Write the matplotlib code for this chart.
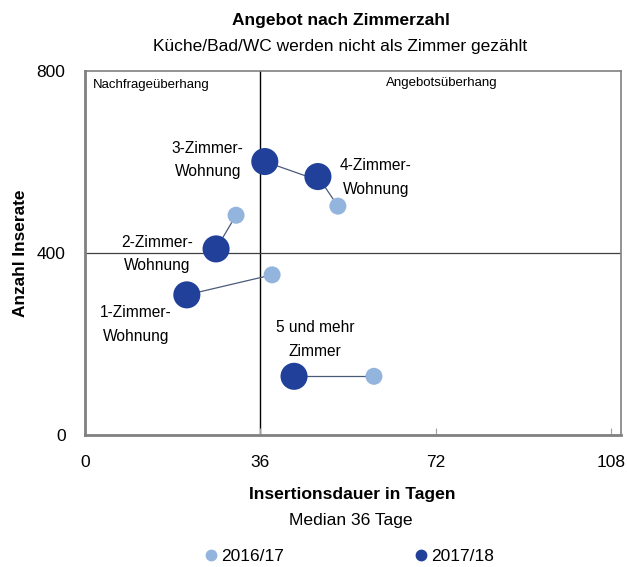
import matplotlib
matplotlib.use("Agg")
import matplotlib.pyplot as plt
from matplotlib.lines import Line2D

plt.rcParams['font.family'] = ['Liberation Sans', 'DejaVu Sans']

categories = ["1-Zimmer-\nWohnung", "2-Zimmer-\nWohnung", "3-Zimmer-\nWohnung", "4-Zimmer-\nWohnung", "5 und mehr\nZimmer"]
days_1617 = [38.4, 31.0, 47.0, 51.9, 59.3]
ads_1617 = [352, 483, 563, 503, 129]
days_1718 = [20.9, 26.9, 36.9, 47.8, 42.9]
ads_1718 = [308, 409, 601, 568, 129]
label_pos = [(10.5, 243), (14.8, 398), (25.2, 605), (59.7, 566), (47.2, 210)]
median_days = 36
median_ads = 400
xticks = [0, 36, 72, 108]
yticks = [0, 400, 800]

dark = "#21409a"
light = "#93b4dc"

fig = plt.figure(figsize=(6.27, 5.67), dpi=100)
ax = fig.add_axes([85/627, 1-435/567, (621-85)/627, (435-71)/567])
ax.set_xlim(0, 110)
ax.set_ylim(0, 800)

ax.axvline(median_days, color="black", lw=1, zorder=1)
ax.axhline(median_ads, color="#404040", lw=0.9, zorder=1)

for x1, y1, x2, y2 in zip(days_1617, ads_1617, days_1718, ads_1718):
    ax.plot([x1, x2], [y1, y2], color="#4a5a7a", lw=0.9, zorder=2)
ax.scatter(days_1617, ads_1617, s=150, color=light, zorder=3, edgecolors='none')
ax.scatter(days_1718, ads_1718, s=380, color=dark, zorder=4, edgecolors='none')

for cat, (lx, ly) in zip(categories, label_pos):
    ax.text(lx, ly, cat, ha="center", va="center", fontsize=11.2, linespacing=1.7)

ax.text(1.7, 769, "Nachfrageüberhang", fontsize=9.5, ha="left", va="center")
ax.text(73.2, 774, "Angebotsüberhang", fontsize=9.5, ha="center", va="center")

for s in ax.spines.values():
    s.set_color("#808080")
    s.set_linewidth(1.2)
ax.spines['left'].set_linewidth(2)
ax.spines['bottom'].set_linewidth(2)

ax.set_xticks(xticks)
ax.set_xticklabels([str(t) for t in xticks], fontsize=12.5)
ax.set_yticks(yticks)
ax.set_yticklabels([str(t) for t in yticks], fontsize=12.5)
ax.tick_params(axis='x', direction='in', length=5, color="#a0a0a0", pad=14.5)
ax.tick_params(axis='y', length=0, pad=14)

fig.text(341/627, 1-21/567, "Angebot nach Zimmerzahl", ha="center", va="center", fontsize=12.5, fontweight="bold")
fig.text(340/627, 1-46/567, "Küche/Bad/WC werden nicht als Zimmer gezählt", ha="center", va="center", fontsize=12.5)
fig.text(21/627, 1-253/567, "Anzahl Inserate", rotation=90, ha="center", va="center", fontsize=12.4, fontweight="bold")
fig.text(352/627, 1-494/567, "Insertionsdauer in Tagen", ha="center", va="center", fontsize=12.6, fontweight="bold")
fig.text(351/627, 1-520/567, "Median 36 Tage", ha="center", va="center", fontsize=12.6)

handles = [Line2D([], [], marker='o', ls='none', color=light, markersize=7.5),
           Line2D([], [], marker='o', ls='none', color=dark, markersize=7.5)]
fig.legend(handles, ["2016/17", "2017/18"], loc="center", bbox_to_anchor=(350/627, 1-556/567),
           ncol=2, frameon=False, fontsize=12.5, handlelength=0.6, handletextpad=0.3,
           columnspacing=7.6, borderpad=0.1)

fig.savefig("out.png", dpi=100)
